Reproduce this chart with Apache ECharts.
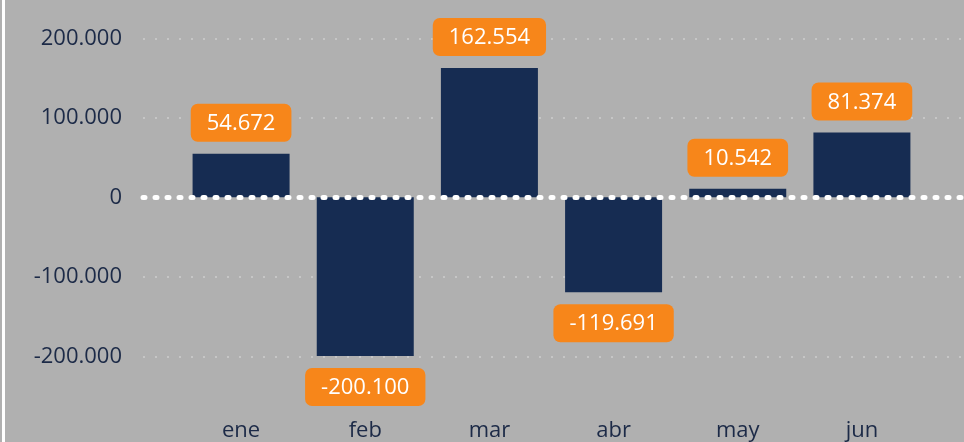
<!DOCTYPE html>
<html>
<head>
<meta charset="utf-8">
<script src="https://cdn.jsdelivr.net/npm/echarts@6/dist/echarts.min.js"></script>
<style>
html,body{margin:0;padding:0;background:#b0b0b0;}
#c{width:964px;height:442px;}
</style>
</head>
<body>
<div id="c"></div>
<script>
const categories = ['ene', 'feb', 'mar', 'abr', 'may', 'jun'];
const values = [54672, -200100, 162554, -119691, 10542, 81374];
const yTicks = [-200000, -100000, 0, 100000, 200000];

function fmt(v) {
  const neg = v < 0;
  const s = String(Math.abs(Math.round(v))).replace(/\B(?=(\d{3})+(?!\d))/g, '.');
  return (neg ? '-' : '') + s;
}

const FONT = '"Open Sans", sans-serif';
const NAVY = '#1c2a47';
const yMin = yTicks[0], yMax = yTicks[yTicks.length - 1];
const step = yTicks[1] - yTicks[0];

const chart = echarts.init(document.getElementById('c'), null, {renderer: 'canvas'});
chart.setOption({
  backgroundColor: '#b0b0b0',
  animation: false,
  graphic: [{type: 'rect', shape: {x: 2, y: 0, width: 3, height: 442}, style: {fill: '#ffffff'}, z: 100}],
  grid: [
    {left: 143, right: 0, top: 38.3, bottom: 85.3},
    {left: 179, right: 40, top: 38.3, bottom: 85.3}
  ],
  xAxis: [
    {type: 'category', gridIndex: 0, data: categories, z: 10,
     axisLine: {show: true, onZero: true, lineStyle: {color: '#ffffff', width: 5, type: [2, 10], cap: 'round'}},
     axisTick: {show: false}, axisLabel: {show: false}, splitLine: {show: false}},
    {type: 'category', gridIndex: 1, data: categories,
     axisLine: {show: false, onZero: false}, axisTick: {show: false},
     axisLabel: {margin: 64, color: NAVY, fontSize: 22, fontFamily: FONT}}
  ],
  yAxis: [
    {type: 'value', gridIndex: 0, min: yMin, max: yMax, interval: step,
     axisLine: {show: false}, axisTick: {show: false},
     axisLabel: {margin: 21, color: NAVY, fontSize: 22, fontFamily: FONT, formatter: fmt},
     splitLine: {show: true, lineStyle: {color: '#c6c6c6', width: 2, type: [2, 10]}}},
    {type: 'value', gridIndex: 1, min: yMin, max: yMax, interval: step,
     axisLine: {show: false}, axisTick: {show: false}, axisLabel: {show: false}, splitLine: {show: false}}
  ],
  series: [{
    type: 'bar', xAxisIndex: 1, yAxisIndex: 1, barWidth: 97,
    itemStyle: {color: '#162c52'},
    data: values.map(v => ({value: v, label: {position: v < 0 ? 'bottom' : 'top'}})),
    label: {
      show: true, distance: 12, color: '#ffffff', fontSize: 22, fontFamily: FONT,
      backgroundColor: '#f7861a', borderRadius: 7, padding: [9, 16, 7, 16],
      formatter: p => fmt(p.value)
    }
  }]
});
</script>
</body>
</html>
